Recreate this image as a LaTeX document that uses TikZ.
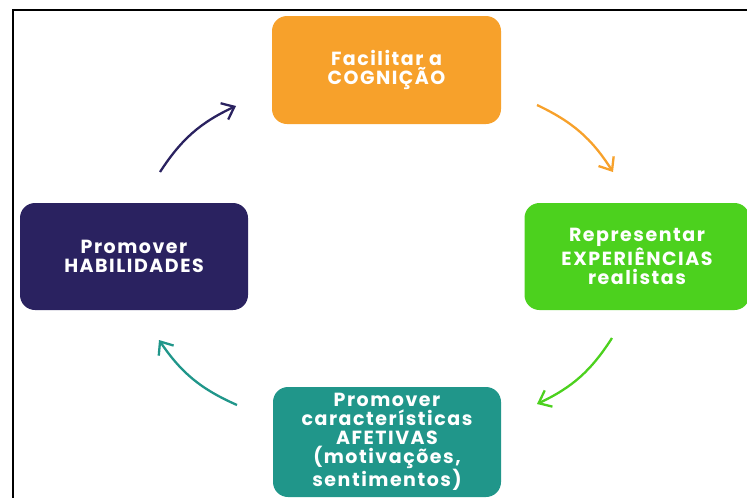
\documentclass[tikz,border=0pt]{standalone}
\usepackage{fontspec}
\setmainfont[LetterSpace=8]{Poppins}
\usetikzlibrary{arrows.meta}

\definecolor{laranja}{HTML}{F7A12B}
\definecolor{verde}{HTML}{4CD11E}
\definecolor{azulesc}{HTML}{2A2260}
\definecolor{verdeagua}{HTML}{20968A}

\begin{document}
\begin{tikzpicture}[x=1pt,y=-1pt,thick]
				\tikzset{
					caixa/.style={rounded corners=15pt, align=center, text=white,
						font=\bfseries\fontsize{19}{19}\selectfont, inner sep=0pt},
					seta/.style={line width=2.3pt, -{Straight Barb[length=11pt,width=18pt,line width=2.3pt]}}
				}
				\useasboundingbox (0,0) rectangle (747,498);
				
				% Frame (only left and top edges show)
				\draw[line width=1.6pt] (13,498) -- (13,10) -- (747,10);
				
				% Boxes
				\node[caixa, fill=laranja, minimum width=229pt, minimum height=108pt] (cognicao) at (386.5,70) {Facilitar a\\COGNIÇÃO};
				\node[caixa, fill=verde, minimum width=225pt, minimum height=107pt] (experiencias) at (637,256.5) {Representar\\EXPERIÊNCIAS\\realistas};
				\node[caixa, fill=verdeagua, minimum width=228pt, minimum height=110pt] (afetivas) at (387,442) {Promover\\características\\AFETIVAS\\(motivações,\\sentimentos)};
				\node[caixa, fill=azulesc, minimum width=228pt, minimum height=107pt] (habilidades) at (134,256.5) {Promover\\HABILIDADES};
				
				% Arrow end points
				\coordinate (cog-out) at (537,105);
				\coordinate (exp-in) at (613,172);
				\coordinate (exp-out) at (612,338);
				\coordinate (afe-in) at (537,404);
				\coordinate (afe-out) at (237,405);
				\coordinate (hab-in) at (159,340);
				\coordinate (hab-out) at (160,172);
				\coordinate (cog-in) at (236,106);
				
				% Arrows
				\draw[seta, color=laranja] (cog-out) to[bend left=16] (exp-in);
				\draw[seta, color=verde] (exp-out) to[bend left=16] (afe-in);
				\draw[seta, color=verdeagua] (afe-out) to[bend left=16] (hab-in);
				\draw[seta, color=azulesc] (hab-out) to[bend left=16] (cog-in);
				
\end{tikzpicture}
\end{document}
